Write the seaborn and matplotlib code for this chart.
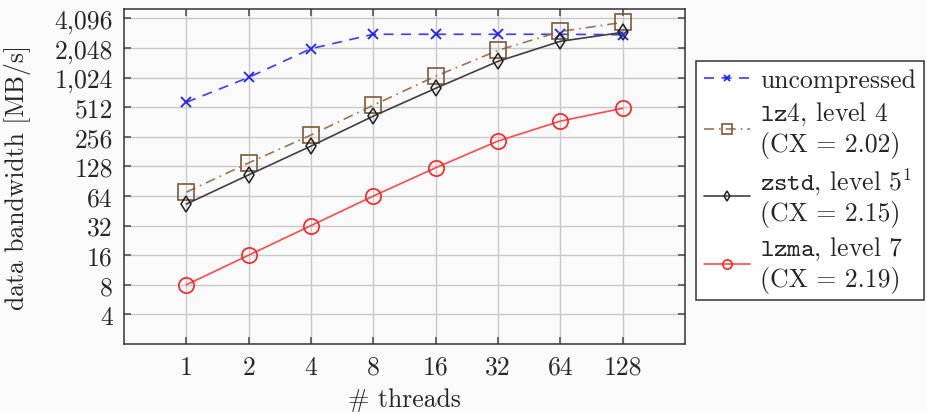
import numpy as np
import pandas as pd
import matplotlib
matplotlib.use('Agg')
import matplotlib.pyplot as plt
from matplotlib.ticker import FuncFormatter, NullLocator
import seaborn as sns

# ------------------------------------------------------------
#  data (MB/s per thread count)
# ------------------------------------------------------------
threads = [1, 2, 4, 8, 16, 32, 64, 128]
uncompressed = [575, 1030, 2020, 2830, 2830, 2830, 2830, 2800]
lz4 = [70, 139, 267, 537, 1060, 1940, 3020, 3740]
zstd = [53, 105, 206, 416, 798, 1500, 2400, 2960]
lzma = [8, 16, 32, 64, 124, 232, 370, 500]

labels = ['uncompressed',
          '$\\mathtt{lz4}$, level 4\n(CX = 2.02)',
          '$\\mathtt{zstd}$, level $5^1$\n(CX = 2.15)',
          '$\\mathtt{lzma}$, level 7\n(CX = 2.19)']
y_ticks = [4, 8, 16, 32, 64, 128, 256, 512, 1024, 2048, 4096]

sns.set_theme(style='ticks')
plt.rcParams['font.family'] = ['cmr10', 'DejaVu Serif']
plt.rcParams['mathtext.fontset'] = 'cm'
plt.rcParams['axes.formatter.use_mathtext'] = True
plt.rcParams['axes.unicode_minus'] = False

bg = '#fafafa'
fig = plt.figure(figsize=(9.28, 4.14), dpi=100, facecolor=bg)
ax = fig.add_axes([0.1336, 0.1667, 0.6045, 0.8091])
ax.set_facecolor(bg)

styles = [
    dict(color='#3c3cff', linestyle=(0, (6, 4.5)), marker='x', markersize=7,
         markeredgewidth=1.3, markeredgecolor='#2020ff'),
    dict(color='#9a7550', linestyle=(0, (6, 3, 1, 3)), marker='s', markersize=11,
         markeredgewidth=1.2, markerfacecolor='none', markeredgecolor='#7a5a3a'),
    dict(color='#404040', linestyle='-', marker='d', markersize=8.5,
         markeredgewidth=1.1, markerfacecolor='none', markeredgecolor='#202020'),
    dict(color='#ff4a4a', linestyle='-', marker='o', markersize=11,
         markeredgewidth=1.2, markerfacecolor='none', markeredgecolor='#ff2020'),
]

for vals, lab, st in zip([uncompressed, lz4, zstd, lzma], labels, styles):
    sns.lineplot(x=threads, y=vals, ax=ax, label=lab, linewidth=1.2, **st)

ax.set_xscale('log', base=2)
ax.set_yscale('log', base=2)
ax.set_xlim(0.5, 256)
ax.set_ylim(2, 2 ** 12.32)
ax.set_xticks(threads)
ax.set_yticks(y_ticks)
ax.xaxis.set_minor_locator(NullLocator())
ax.yaxis.set_minor_locator(NullLocator())
ax.xaxis.set_major_formatter(FuncFormatter(lambda v, p: f'{v:.0f}'))
ax.yaxis.set_major_formatter(FuncFormatter(lambda v, p: f'{v:,.0f}'))

ax.grid(True, color='#c8c8c8', linewidth=1.0)
ax.tick_params(direction='in', length=5, width=1.2, color='#555555',
               top=True, right=True, labelsize=18.5, pad=8)
for s in ax.spines.values():
    s.set_color('#333333')
    s.set_linewidth(1.1)

ax.set_xlabel('# threads', fontsize=18.5, labelpad=6)
ax.set_ylabel('data bandwidth [MB/s]', fontsize=18.5)
ax.yaxis.set_label_coords(-0.165, 0.5)

leg = ax.legend(loc='upper left', bbox_to_anchor=(1.02, 0.845), fontsize=18.5,
                frameon=True, fancybox=False, edgecolor='#333333', framealpha=1,
                facecolor='white', handlelength=1.8, handletextpad=0.4,
                labelspacing=0.28, borderpad=0.3, borderaxespad=0,
                markerscale=0.6)
leg.get_frame().set_linewidth(1.1)

plt.savefig('out.png', dpi=100, facecolor=bg)
